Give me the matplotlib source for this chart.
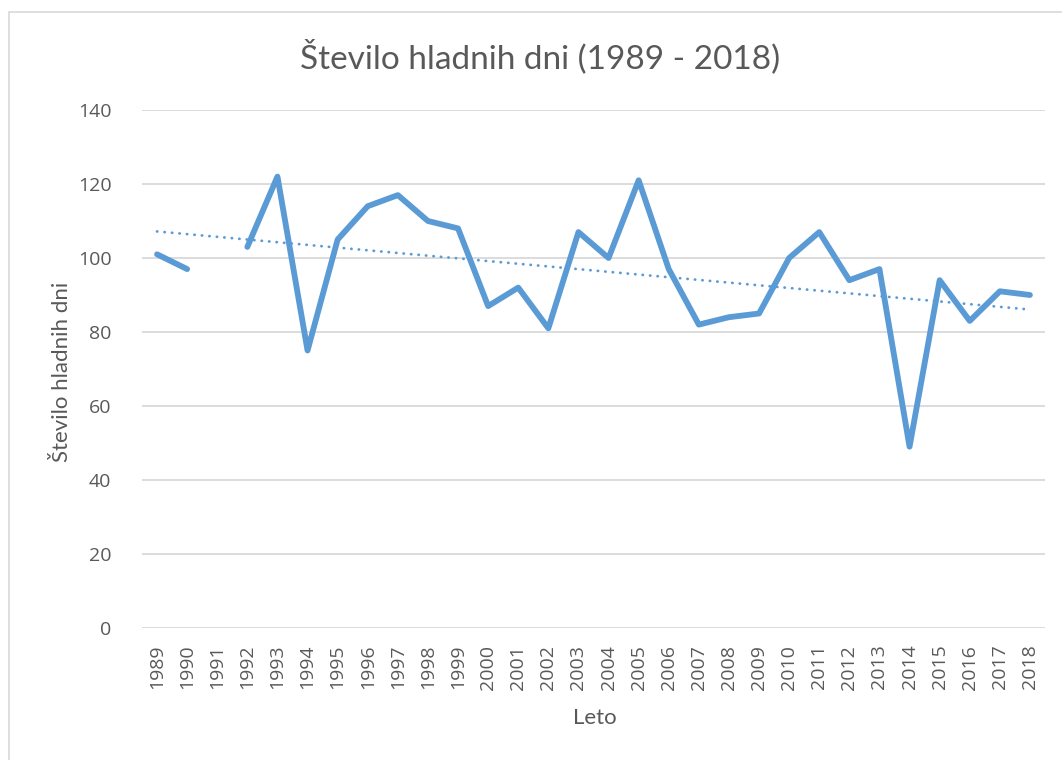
import numpy as np
import matplotlib.pyplot as plt
from matplotlib.patches import Rectangle

years = list(range(1989, 2019))
cold_days = [101, 97, np.nan, 103, 122, 75, 105, 114, 117, 110,
             108, 87, 92, 81, 107, 100, 121, 97, 82, 84,
             85, 100, 107, 94, 97, 49, 94, 83, 91, 90]

title = "Število hladnih dni (1989 - 2018)"
ylabel = "Število hladnih dni"
xlabel = "Leto"

line_col = "#5b9bd5"
grid_col = "#d9d9d9"
text_col = "#595959"

x = np.arange(len(years))
y = np.array(cold_days, dtype=float)
ok = ~np.isnan(y)
# linear trend like excel, gap skipped
coef = np.polyfit(x[ok] + 1, y[ok], 1)
trend = np.polyval(coef, x + 1)

fig = plt.figure(figsize=(10.62, 7.6), dpi=100)
fig.patches.append(Rectangle((9 / 1062, -0.05), 1.2, 1 - 12 / 760 + 0.05,
                             transform=fig.transFigure, fill=False,
                             edgecolor="#d9d9d9", linewidth=1.2))
ax = fig.add_axes([142 / 1062, 1 - 628 / 760, (1045 - 142) / 1062, (628 - 110) / 760])

ax.plot(x, y, color=line_col, linewidth=4.2, solid_capstyle="round",
        solid_joinstyle="round", zorder=3)
ax.plot(x, trend, color=line_col, linewidth=2.0, linestyle=(0, (0.1, 2.6)),
        dash_capstyle="round", zorder=4)

ax.set_xlim(-0.5, len(years) - 0.5)
ax.set_ylim(0, 140)
ax.set_yticks(range(0, 141, 20))
ax.set_xticks(x)
ax.set_xticklabels([str(v) for v in years], rotation=90)
ax.grid(axis="y", color=grid_col, linewidth=1.3)
ax.set_axisbelow(True)
for s in ax.spines.values():
    s.set_visible(False)
ax.tick_params(length=0, colors=text_col, labelsize=14)
ax.tick_params(axis="y", pad=22)
ax.tick_params(axis="x", pad=12)
for lab in ax.get_xticklabels() + ax.get_yticklabels():
    lab.set_fontfamily("Open Sans")

fig.text(540 / 1062, 1 - 57 / 760, title, ha="center", va="center",
         fontsize=24, color=text_col, family="Lato")
fig.text(595 / 1062, 1 - 718 / 760, xlabel, ha="center", va="center",
         fontsize=16, color=text_col, family="Lato")
fig.text(62 / 1062, 1 - 372 / 760, ylabel, ha="center", va="center",
         rotation=90, fontsize=16, color=text_col, family="Lato")

fig.savefig("out.png", dpi=100, facecolor="white")
